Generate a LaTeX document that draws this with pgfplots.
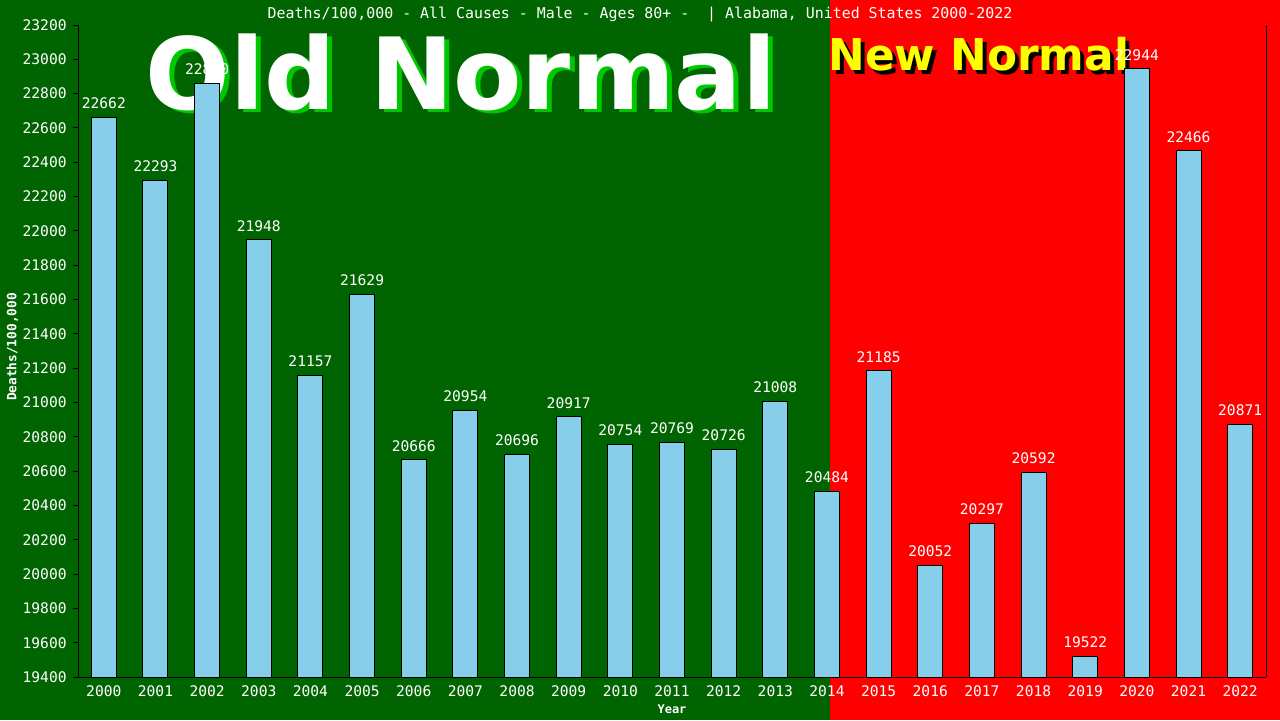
\documentclass[border=0pt]{standalone}
\usepackage{pgfplots}
\pgfplotsset{compat=1.18}
\usepackage{fontspec}
\setmainfont{DejaVu Sans}
\setmonofont{DejaVu Sans Mono}
\definecolor{dkgreen}{RGB}{0,100,0}
\definecolor{shgreen}{RGB}{0,200,0}
\definecolor{skyb}{RGB}{135,206,235}
\definecolor{rred}{RGB}{255,0,0}
\definecolor{yel}{RGB}{255,255,0}
\begin{document}
\begin{tikzpicture}
\fill[dkgreen] (0,0) rectangle (415pt,360pt);
\fill[rred] (415pt,0) rectangle (640pt,360pt);
% big labels
\node[anchor=base west,inner sep=0pt,text=shgreen,font=\bfseries\fontsize{49.8}{55}\selectfont] at (75pt,304pt) {Old Normal};
\node[anchor=base west,inner sep=0pt,text=white,font=\bfseries\fontsize{49.8}{55}\selectfont] at (72.5pt,305.5pt) {Old Normal};
\node[anchor=base west,inner sep=0pt,text=black,font=\bfseries\fontsize{21.9}{25}\selectfont] at (416pt,323pt) {New Normal};
\node[anchor=base west,inner sep=0pt,text=yel,font=\bfseries\fontsize{21.9}{25}\selectfont] at (414pt,325pt) {New Normal};
% title
\node[inner sep=0pt,text=white,font=\ttfamily\fontsize{7.45}{9}\selectfont] at (320pt,352.7pt) {Deaths/100,000 - All Causes - Male - Ages 80+ -\ \ | Alabama, United States 2000-2022};
% axis labels
\node[inner sep=0pt,text=white,rotate=90,font=\ttfamily\bfseries\fontsize{6.4}{8}\selectfont] at (6.2pt,186.5pt) {Deaths/100,000};
\node[inner sep=0pt,text=white,font=\ttfamily\bfseries\fontsize{6}{8}\selectfont] at (336pt,5.5pt) {Year};
\begin{axis}[
  scale only axis, width=594pt, height=326pt,
  at={(39pt,21.5pt)}, anchor=south west,
  xmin=1999.5, xmax=2022.5, ymin=19400, ymax=23200,
  xtick={2000,2001,...,2022},
  ytick={19400,19600,...,23200},
  scaled y ticks=false, scaled x ticks=false,
  /pgf/number format/1000 sep={},
  /pgf/number format/assume math mode=true,
  axis x line*=bottom, axis y line*=left,
  axis line style={-, black, line width=0.5pt},
  tick align=outside, major tick length=2.5pt,
  major x tick style={draw=none},
  major y tick style={black, line width=0.5pt},
  ticklabel style={text=white, font=\ttfamily\fontsize{7.3}{9}\selectfont, inner sep=0pt},
  yticklabel style={xshift=-3pt},
  xticklabel style={yshift=-1.5pt},
  ybar, bar width=12.5pt,
  nodes near coords,
  every node near coord/.append style={text=white, font=\ttfamily\fontsize{7.3}{9}\selectfont, inner sep=0pt, anchor=south, yshift=4pt},
  clip=false,
]
\addplot[fill=skyb, draw=black, line width=0.5pt] coordinates {
(2000,22662) (2001,22293) (2002,22860) (2003,21948) (2004,21157) (2005,21629)
(2006,20666) (2007,20954) (2008,20696) (2009,20917) (2010,20754) (2011,20769)
(2012,20726) (2013,21008) (2014,20484) (2015,21185) (2016,20052) (2017,20297)
(2018,20592) (2019,19522) (2020,22944) (2021,22466) (2022,20871)};
\draw[black, line width=0.5pt] (rel axis cs:1,0) -- (rel axis cs:1,1);
\end{axis}
\pgfresetboundingbox
\useasboundingbox (0,0) rectangle (640pt,360pt);
\end{tikzpicture}
\end{document}
